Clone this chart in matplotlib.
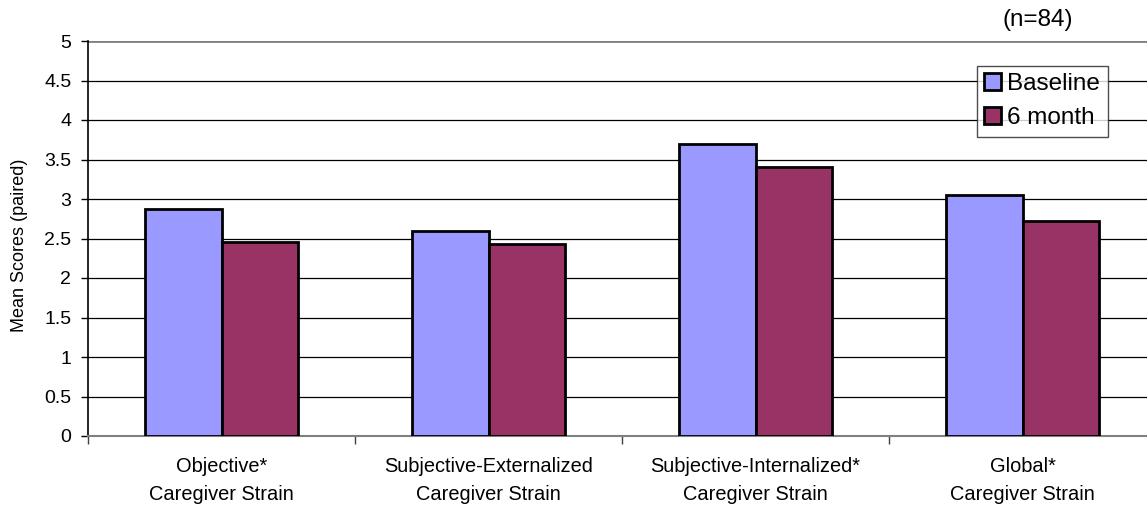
import matplotlib
matplotlib.use("Agg")
import matplotlib.pyplot as plt
import numpy as np

plt.rcParams['font.family'] = ['Liberation Sans', 'DejaVu Sans']

categories = ["Objective*\nCaregiver Strain",
              "Subjective-Externalized\nCaregiver Strain",
              "Subjective-Internalized*\nCaregiver Strain",
              "Global*\nCaregiver Strain"]
series_names = ["Baseline", "6 month"]
baseline = [2.87, 2.60, 3.69, 3.05]
six_month = [2.46, 2.43, 3.40, 2.72]
y_ticks = [0, 0.5, 1, 1.5, 2, 2.5, 3, 3.5, 4, 4.5, 5]
y_tick_labels = ["0", "0.5", "1", "1.5", "2", "2.5", "3", "3.5", "4", "4.5", "5"]

colors = ["#9999FF", "#993366"]

W, H = 1147, 508
fig = plt.figure(figsize=(W / 100, H / 100), dpi=100)
ax = fig.add_axes([88 / W, (H - 436) / H, (1156 - 88) / W, 395 / H])

x = np.arange(len(categories))
bw = 1 / 3.5
ax.bar(x - bw / 2, baseline, width=bw, color=colors[0], edgecolor="black",
       linewidth=2, label=series_names[0], zorder=3)
ax.bar(x + bw / 2, six_month, width=bw, color=colors[1], edgecolor="black",
       linewidth=2, label=series_names[1], zorder=3)

ax.set_xlim(-0.5, len(categories) - 0.5)
ax.set_ylim(0, 5)
ax.set_yticks(y_ticks)
ax.set_yticklabels(y_tick_labels, fontsize=14)
for yv in y_ticks[1:-1]:
    ax.axhline(yv, color="black", linewidth=0.9, zorder=1)
ax.axhline(5, color="#808080", linewidth=2, zorder=1)

# Category labels sit under the bar groups; ticks mark category boundaries
ax.set_xticks(np.arange(len(categories) + 1) - 0.5)
ax.set_xticklabels([])
ax.set_xticks(x, minor=True)
ax.set_xticklabels(categories, minor=True, fontsize=14.4, linespacing=1.58)
ax.tick_params(axis="x", which="minor", length=0, pad=15)
ax.tick_params(axis="x", which="major", length=6, width=1, direction="out", color="#404040")
ax.tick_params(axis="y", length=5, width=1, direction="out", pad=7)

for side in ["top", "right"]:
    ax.spines[side].set_visible(False)
ax.spines["left"].set_color("black")
ax.spines["left"].set_linewidth(1.2)
ax.spines["bottom"].set_color("#808080")
ax.spines["bottom"].set_linewidth(1.5)

fig.text(20 / W, 1 - 245 / H, "Mean Scores (paired)", rotation=90,
         ha="center", va="center", fontsize=13)
fig.text(1038 / W, 1 - 20 / H, "(n=84)", ha="center", va="center", fontsize=17.5)

leg = ax.legend(loc="upper left", bbox_to_anchor=(977 / W, 1 - 66 / H),
                bbox_transform=fig.transFigure, fontsize=17.5, frameon=True,
                fancybox=False, edgecolor="#202020", handlelength=0.7,
                handleheight=0.7, handletextpad=0.25, borderpad=0.3,
                labelspacing=0.5, borderaxespad=0)
leg.get_frame().set_linewidth(1)
for h in leg.legend_handles:
    h.set_linewidth(2)

fig.savefig("out.png", dpi=100)
